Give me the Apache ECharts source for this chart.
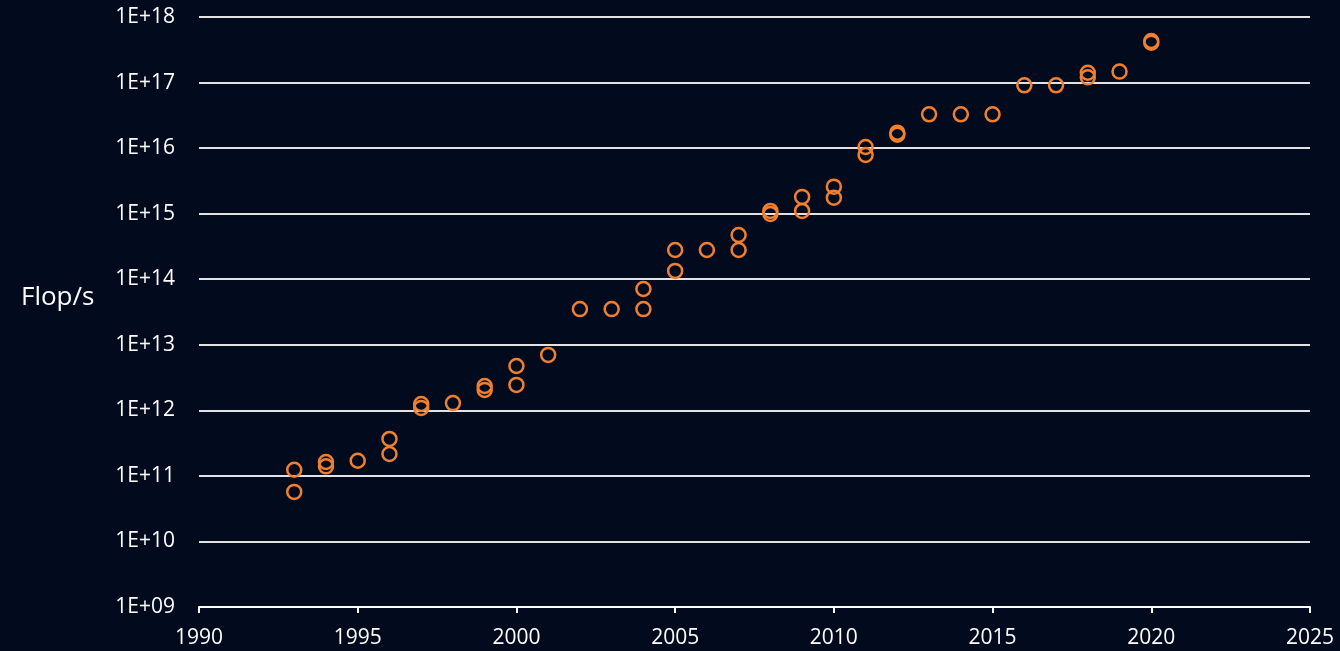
<!DOCTYPE html>
<html>
<head>
<meta charset="utf-8">
<title>Flop/s</title>
<script src="https://cdn.jsdelivr.net/npm/echarts@6/dist/echarts.min.js"></script>
<style>
  html, body { margin: 0; padding: 0; background: #020b1d; }
  #main { width: 1340px; height: 651px; }
</style>
</head>
<body>
<div id="main"></div>
<script>
// year of each system and its peak performance (Flop/s)
const years = [
  1993, 1993, 1994, 1994, 1995, 1996, 1996, 1997, 1997, 1998,
  1999, 1999, 2000, 2000, 2001, 2002, 2003, 2004, 2004, 2005,
  2005, 2006, 2007, 2007, 2008, 2008, 2009, 2009, 2010, 2010,
  2011, 2011, 2012, 2012, 2013, 2014, 2015, 2016, 2017, 2018,
  2018, 2019, 2020, 2020
];
const flops = [
  1.24e11, 5.7e10, 1.63e11, 1.4e11, 1.7e11, 3.66e11, 2.16e11, 1.25e12, 1.09e12, 1.29e12,
  2.35e12, 2.05e12, 4.75e12, 2.44e12, 7.0e12, 3.5e13, 3.5e13, 7.1e13, 3.5e13, 2.79e14,
  1.34e14, 2.79e14, 4.73e14, 2.79e14, 1.1e15, 9.9e14, 1.8e15, 1.1e15, 2.58e15, 1.75e15,
  1.04e16, 7.85e15, 1.72e16, 1.6e16, 3.28e16, 3.28e16, 3.28e16, 9.08e16, 9.08e16, 1.41e17,
  1.2e17, 1.47e17, 4.3e17, 4.06e17
];
const yearMin = 1990, yearMax = 2025, yearStep = 5;
const flopMin = 1e9, flopMax = 1e18;
const yName = 'Flop/s';

const points = years.map((y, i) => [y, flops[i]]);

const myChart = echarts.init(document.getElementById('main'));
const font = '"Open Sans", "Noto Sans", sans-serif';

const option = {
  backgroundColor: '#020b1d',
  animation: false,
  title: {
    text: yName,
    left: 16,
    top: 280,
    textStyle: { color: '#ffffff', fontSize: 26, fontWeight: 'normal', fontFamily: font }
  },
  grid: { left: 199, right: 30, top: 17, bottom: 44 },
  xAxis: {
    type: 'value',
    min: yearMin,
    max: yearMax,
    interval: yearStep,
    axisLine: { show: true, lineStyle: { color: '#ffffff', width: 2 } },
    axisTick: { show: true, length: 6, lineStyle: { color: '#ffffff', width: 2 } },
    axisLabel: { color: '#ffffff', fontSize: 21, fontFamily: font, margin: 21, formatter: v => String(v) },
    splitLine: { show: false }
  },
  yAxis: {
    type: 'log',
    logBase: 10,
    min: flopMin,
    max: flopMax,
    splitNumber: 9,
    axisLine: { show: false },
    axisTick: { show: false },
    axisLabel: {
      color: '#ffffff',
      fontSize: 21,
      fontFamily: font,
      margin: 24,
      formatter: v => '1E+' + String(Math.round(Math.log10(v))).padStart(2, '0')
    },
    splitLine: { show: true, lineStyle: { color: '#e2e2e2', width: 2 } }
  },
  series: [{
    type: 'scatter',
    data: points,
    symbol: 'circle',
    symbolSize: 14,
    itemStyle: { color: 'transparent', borderColor: '#f08030', borderWidth: 2.5, opacity: 1 }
  }]
};

myChart.setOption(option);
</script>
</body>
</html>
